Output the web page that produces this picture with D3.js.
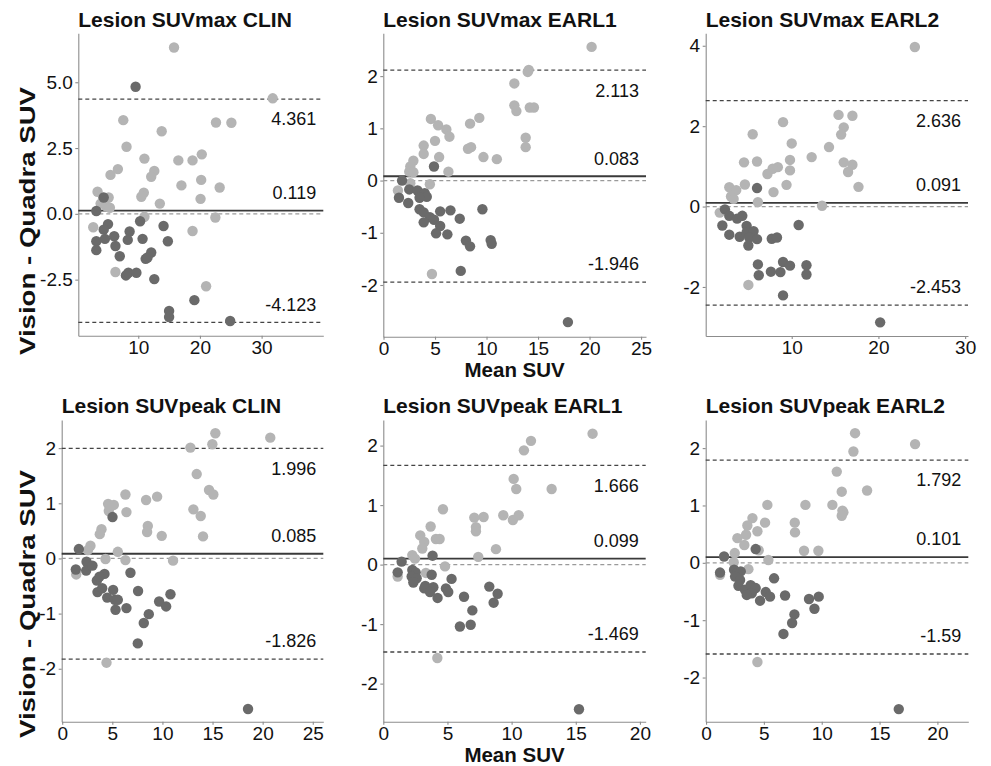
<!DOCTYPE html>
<html lang="en">
<head>
<meta charset="UTF-8">
<title>Lesion SUV Bland-Altman</title>
<script src="https://d3js.org/d3.v7.min.js"></script>
<style>
  body { margin: 0; background: #fff; }
  svg { display: block; font-family: "Liberation Sans", Arial, Helvetica, sans-serif; }
  .axis path, .axis line { stroke: #8c8c8c; stroke-width: 1.1; }
  .axis text { font-size: 19px; fill: #111; }
  .title { font-size: 21px; font-weight: bold; fill: #111; }
  .axis-title { font-size: 21px; font-weight: bold; fill: #111; }
  .note { font-size: 18px; fill: #111; }
</style>
</head>
<body>
<svg id="chart" width="991" height="766"></svg>
<script>
// panel titles and summary lines
const titles = ["Lesion SUVmax CLIN", "Lesion SUVmax EARL1", "Lesion SUVmax EARL2",
                "Lesion SUVpeak CLIN", "Lesion SUVpeak EARL1", "Lesion SUVpeak EARL2"];
const meanDiff = [0.119, 0.083, 0.091, 0.085, 0.099, 0.101];
const upperLoA = [4.361, 2.113, 2.636, 1.996, 1.666, 1.792];
const lowerLoA = [-4.123, -1.946, -2.453, -1.826, -1.469, -1.59];

// axis ranges and ticks
const xDomains = [[0.28, 40.0], [-0.02, 25.48], [0.08, 30.33], [-0.05, 26.05], [0, 20.45], [-0.03, 22.67]];
const yDomains = [[-4.63, 6.86], [-2.99, 2.82], [-3.22, 4.31], [-2.96, 2.51], [-2.64, 2.43], [-2.77, 2.49]];
const xTicks = [[10, 20, 30], [0, 5, 10, 15, 20, 25], [10, 20, 30], [0, 5, 10, 15, 20, 25], [0, 5, 10, 15, 20], [0, 5, 10, 15, 20]];
const yTicks = [[-2.5, 0, 2.5, 5], [-2, -1, 0, 1, 2], [-2, 0, 2, 4], [-2, -1, 0, 1, 2], [-2, -1, 0, 1, 2], [-2, -1, 0, 1, 2]];

// [mean SUV, difference] — light points
const maxClinA = [[15.8,6.32],[31.8,4.39],[7.57,3.56],[22.6,3.47],[25.1,3.46],[13.8,3.14],[8.1,2.55],[11.0,2.10],[16.5,2.03],[18.8,2.03],[20.3,2.26],[6.7,1.70],[5.5,1.48],[12.6,1.63],[12.1,1.41],[17.0,1.08],[20.2,1.29],[23.2,1.00],[3.4,0.84],[10.9,0.80],[10.5,0.65],[20.1,0.57],[4.3,0.60],[5.2,0.62],[3.9,0.39],[4.8,0.29],[5.4,0.23],[13.5,0.39],[11.0,-0.11],[22.5,-0.14],[2.7,-0.51],[18.8,-0.65],[6.3,-2.21],[21.0,-2.75]];
const maxEarl1A = [[20.2,2.56],[14.1,2.12],[14.0,2.08],[12.7,1.86],[12.7,1.44],[12.9,1.33],[14.2,1.40],[14.6,1.40],[4.6,1.18],[9.3,1.20],[5.3,1.06],[6.1,0.98],[8.4,1.09],[6.4,0.84],[5.0,0.76],[13.8,0.82],[13.8,0.64],[3.9,0.67],[3.9,0.51],[8.2,0.61],[8.5,0.64],[5.4,0.45],[9.7,0.45],[11.0,0.41],[2.9,0.38],[2.6,0.27],[2.5,0.17],[2.9,0.16],[6.3,0.17],[4.5,-0.07],[2.6,-0.05],[1.4,-0.19],[4.7,-1.79]];
const maxEarl2A = [[24.2,3.97],[15.4,2.28],[17.0,2.26],[9.0,2.10],[16.0,1.97],[15.7,1.79],[5.5,1.80],[10.0,1.57],[14.3,1.48],[12.3,1.23],[9.8,1.16],[4.5,1.10],[6.0,1.12],[16.0,1.10],[17.0,1.04],[16.5,0.86],[8.4,0.98],[7.8,0.94],[7.2,0.81],[9.8,0.90],[4.6,0.55],[9.4,0.54],[17.7,0.49],[2.8,0.48],[3.6,0.41],[7.9,0.36],[3.0,0.25],[3.3,0.19],[6.1,0.11],[13.5,0.02],[1.7,-0.15],[5.0,-1.95]];
const peakClinA = [[15.28,2.27],[20.76,2.19],[12.79,2.01],[14.98,2.07],[13.42,1.53],[14.65,1.24],[15.08,1.16],[13.09,0.89],[13.82,0.77],[14.05,0.40],[6.31,1.16],[9.47,1.12],[8.37,1.06],[4.58,0.99],[5.15,0.97],[4.65,0.86],[6.41,0.84],[8.54,0.59],[8.47,0.48],[3.92,0.53],[3.75,0.44],[9.93,0.41],[2.82,0.23],[2.56,0.15],[5.55,0.12],[4.32,-0.01],[6.31,-0.03],[11.06,-0.04],[1.40,-0.29],[4.42,-1.89]];
const peakEarl1A = [[16.31,2.20],[11.51,2.08],[10.96,1.92],[10.16,1.44],[10.36,1.27],[13.12,1.27],[4.65,0.93],[7.09,0.79],[7.82,0.80],[9.35,0.83],[10.55,0.83],[10.10,0.75],[7.22,0.63],[7.22,0.56],[3.69,0.64],[2.88,0.49],[3.19,0.38],[3.04,0.27],[4.10,0.43],[4.39,0.43],[8.78,0.26],[7.40,0.13],[2.26,0.16],[2.47,0.10],[4.81,-0.03],[3.32,-0.14],[1.12,-0.20],[4.21,-1.57]];
const peakEarl2A = [[12.88,2.26],[12.74,1.94],[18.07,2.07],[11.30,1.59],[11.73,1.24],[13.92,1.26],[10.92,1.01],[11.79,0.91],[11.87,0.88],[11.73,0.82],[5.30,1.01],[8.59,1.01],[4.01,0.78],[3.57,0.65],[5.10,0.70],[4.44,0.55],[7.67,0.70],[7.69,0.53],[3.46,0.49],[2.71,0.43],[3.31,0.31],[2.48,0.17],[4.55,0.22],[8.47,0.21],[9.71,0.21],[5.39,0.05],[2.39,0.01],[3.66,-0.11],[1.21,-0.21],[4.44,-1.73]];

// [mean SUV, difference] — dark points
const maxClinB = [[9.57,4.83],[4.4,0.62],[3.2,0.11],[10.3,-0.28],[14.1,-0.46],[5.1,-0.39],[4.4,-0.60],[8.6,-0.67],[6.1,-0.85],[4.6,-0.95],[3.2,-1.04],[8.3,-0.99],[10.7,-0.95],[14.8,-1.04],[3.2,-1.38],[6.3,-1.22],[7.0,-1.61],[12.1,-1.47],[11.2,-1.71],[11.5,-1.66],[8.0,-2.34],[8.4,-2.24],[9.7,-2.24],[12.6,-2.48],[19.1,-3.28],[15.0,-3.69],[15.0,-3.92],[24.9,-4.07]];
const maxEarl1B = [[4.9,0.27],[1.8,0.0],[1.5,-0.33],[2.5,-0.17],[3.3,-0.19],[4.0,-0.24],[4.2,-0.31],[3.5,-0.33],[2.4,-0.43],[3.5,-0.55],[3.9,-0.61],[5.5,-0.59],[6.5,-0.57],[9.6,-0.55],[4.5,-0.70],[4.9,-0.75],[5.5,-0.87],[7.4,-0.73],[3.9,-0.80],[5.1,-1.01],[6.2,-1.03],[8.0,-1.15],[8.4,-1.26],[10.4,-1.14],[10.5,-1.21],[7.5,-1.73],[17.9,-2.71]];
const maxEarl2B = [[6.0,0.46],[2.3,-0.07],[2.8,-0.23],[3.7,-0.30],[4.3,-0.23],[2.0,-0.47],[4.8,-0.48],[2.8,-0.70],[4.0,-0.75],[4.8,-0.64],[5.6,-0.61],[5.1,-0.77],[6.0,-0.81],[5.0,-0.97],[7.7,-0.80],[8.3,-0.77],[10.8,-0.46],[6.1,-1.44],[6.2,-1.71],[7.6,-1.62],[8.7,-1.63],[9.0,-1.38],[9.8,-1.47],[11.7,-1.46],[11.7,-1.69],[9.0,-2.21],[20.2,-2.88]];
const peakClinB = [[5.02,0.75],[1.66,0.17],[1.36,-0.20],[2.43,-0.06],[2.39,-0.22],[3.02,-0.13],[4.22,-0.28],[3.46,-0.40],[3.72,-0.33],[6.81,-0.26],[3.52,-0.61],[3.99,-0.54],[4.49,-0.71],[5.08,-0.57],[5.25,-0.75],[5.55,-0.75],[5.32,-0.93],[6.41,-0.90],[7.57,-0.59],[9.67,-0.78],[10.37,-0.87],[10.80,-0.65],[8.64,-1.01],[8.14,-1.17],[7.54,-1.54],[18.54,-2.73]];
const peakEarl1B = [[3.84,0.15],[1.43,0.05],[1.12,-0.13],[2.26,-0.09],[2.52,-0.13],[2.21,-0.20],[2.60,-0.23],[2.34,-0.30],[3.77,-0.17],[5.32,-0.24],[3.27,-0.36],[3.90,-0.38],[3.19,-0.40],[3.64,-0.46],[4.23,-0.56],[4.88,-0.40],[5.06,-0.46],[6.29,-0.54],[8.26,-0.37],[8.91,-0.49],[8.60,-0.64],[6.94,-0.77],[5.97,-1.04],[6.81,-1.01],[15.25,-2.43]];
const peakEarl2B = [[4.29,0.24],[1.56,0.11],[1.21,-0.17],[2.42,-0.12],[2.71,-0.18],[3.00,-0.15],[2.51,-0.24],[2.94,-0.30],[5.88,-0.27],[2.80,-0.40],[3.37,-0.47],[3.86,-0.39],[4.29,-0.44],[3.95,-0.53],[3.52,-0.56],[4.67,-0.66],[5.16,-0.51],[5.53,-0.59],[6.83,-0.57],[8.90,-0.63],[9.74,-0.59],[9.37,-0.80],[7.64,-0.90],[7.44,-1.05],[6.69,-1.24],[16.66,-2.55]];

const lightSets = [maxClinA, maxEarl1A, maxEarl2A, peakClinA, peakEarl1A, peakEarl2A];
const darkSets = [maxClinB, maxEarl1B, maxEarl2B, peakClinB, peakEarl1B, peakEarl2B];

// pixel frame of each panel: left, right, top, bottom
const frames = [
    [78.3, 323.3, 33.3, 335.7], [383.3, 646, 33.3, 336.7], [705.7, 968, 33.3, 336],
    [61.7, 323.3, 420, 721.7], [383.3, 645.7, 420, 721.7], [705.7, 968.3, 420, 721.7]
];

const lightColor = "#b4b4b4";
const darkColor = "#6a6a6a";
const ptRadius = 5.2;
const svg = d3.select("#chart");

titles.forEach((title, i) => {
    const [l, r, t, b] = frames[i];
    const x = d3.scaleLinear().domain(xDomains[i]).range([l, r]);
    const y = d3.scaleLinear().domain(yDomains[i]).range([b, t]);
    const g = svg.append("g");

    const yFmt = i === 0 ? (d => d.toFixed(1)) : (d => String(d));

    g.append("g")
        .attr("class", "axis")
        .attr("transform", `translate(0,${b})`)
        .call(d3.axisBottom(x).tickValues(xTicks[i]).tickSize(3).tickSizeOuter(0)
            .tickPadding(1.5).tickFormat(d => String(d)));

    g.append("g")
        .attr("class", "axis")
        .attr("transform", `translate(${l},0)`)
        .call(d3.axisLeft(y).tickValues(yTicks[i]).tickSize(3).tickSizeOuter(0)
            .tickPadding(2.5).tickFormat(yFmt));

    // zero reference
    g.append("line")
        .attr("x1", l).attr("x2", r)
        .attr("y1", y(0)).attr("y2", y(0))
        .attr("stroke", "#9a9a9a").attr("stroke-width", 1.3)
        .attr("stroke-dasharray", "4,3");

    // limits of agreement
    [upperLoA[i], lowerLoA[i]].forEach(v => {
        g.append("line")
            .attr("x1", l).attr("x2", r)
            .attr("y1", y(v)).attr("y2", y(v))
            .attr("stroke", "#444").attr("stroke-width", 1.3)
            .attr("stroke-dasharray", "4,3");
    });

    // mean difference
    g.append("line")
        .attr("x1", l).attr("x2", r)
        .attr("y1", y(meanDiff[i])).attr("y2", y(meanDiff[i]))
        .attr("stroke", "#3a3a3a").attr("stroke-width", 1.8);

    g.selectAll(".pt-light")
        .data(lightSets[i])
        .join("circle")
        .attr("class", "pt-light")
        .attr("cx", d => x(d[0]))
        .attr("cy", d => y(d[1]))
        .attr("r", ptRadius)
        .attr("fill", lightColor);

    g.selectAll(".pt-dark")
        .data(darkSets[i])
        .join("circle")
        .attr("class", "pt-dark")
        .attr("cx", d => x(d[0]))
        .attr("cy", d => y(d[1]))
        .attr("r", ptRadius)
        .attr("fill", darkColor);

    // value labels
    const tx = r - 7;
    g.append("text").attr("class", "note").attr("text-anchor", "end")
        .attr("x", tx).attr("y", y(upperLoA[i]) + 20).attr("dy", "0.35em")
        .text(String(upperLoA[i]));
    g.append("text").attr("class", "note").attr("text-anchor", "end")
        .attr("x", tx).attr("y", y(meanDiff[i]) - 18).attr("dy", "0.35em")
        .text(String(meanDiff[i]));
    g.append("text").attr("class", "note").attr("text-anchor", "end")
        .attr("x", tx).attr("y", y(lowerLoA[i]) - 18).attr("dy", "0.35em")
        .text(String(lowerLoA[i]));

    // panel title
    g.append("text").attr("class", "title")
        .attr("x", l).attr("y", t - 6.6)
        .text(title);

    // axis titles
    if (i % 3 === 0) {
        const cy = i === 0 ? 221 : 604;
        g.append("text").attr("class", "axis-title")
            .attr("text-anchor", "middle")
            .attr("transform", `translate(35,${cy}) rotate(-90)`)
            .attr("textLength", 268)
            .attr("lengthAdjust", "spacingAndGlyphs")
            .style("font-size", "22px")
            .text("Vision - Quadra SUV");
    }
    if (i % 3 === 1) {
        g.append("text").attr("class", "axis-title")
            .attr("text-anchor", "middle")
            .attr("x", (l + r) / 2).attr("y", b + 40.5)
            .style("font-size", "20.5px")
            .text("Mean SUV");
    }
});
</script>
</body>
</html>
